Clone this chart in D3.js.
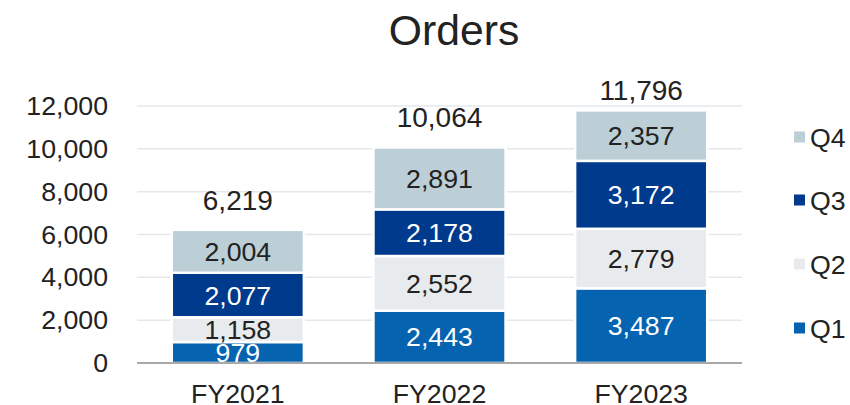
<!DOCTYPE html>
<html>
<head>
<meta charset="utf-8">
<script src="https://cdn.jsdelivr.net/npm/d3@7"></script>
<style>
  body { margin: 0; background: #fff; }
  svg { font-family: "Liberation Sans", Arial, sans-serif; }
</style>
</head>
<body>
<svg id="chart" width="850" height="405"></svg>
<script>
const years = ["FY2021", "FY2022", "FY2023"];
const quarters = ["Q1", "Q2", "Q3", "Q4"];
const q1 = [979, 2443, 3487];
const q2 = [1158, 2552, 2779];
const q3 = [2077, 2178, 3172];
const q4 = [2004, 2891, 2357];
const totals = [6219, 10064, 11796];
const yTicks = [0, 2000, 4000, 6000, 8000, 10000, 12000];

const colors = { Q1: "#0563b0", Q2: "#e8ebee", Q3: "#003a8c", Q4: "#bccfd6" };
const labelColors = { Q1: "#ffffff", Q2: "#222222", Q3: "#ffffff", Q4: "#222222" };

const svg = d3.select("#chart");
const plotLeft = 137, plotRight = 742, plotTop = 106, plotBottom = 363;
const fs = 26.7;

// rows for stacking
const rows = years.map((y, i) => ({ year: y, Q1: q1[i], Q2: q2[i], Q3: q3[i], Q4: q4[i], total: totals[i] }));
const series = d3.stack().keys(quarters)(rows);

const x = d3.scaleBand().domain(years).range([plotLeft, plotRight]).paddingInner(0.345).paddingOuter(0.1725);
const y = d3.scaleLinear().domain([0, 12000]).range([plotBottom, plotTop]);

// title
svg.append("text")
  .attr("x", 454).attr("y", 45)
  .attr("text-anchor", "middle")
  .attr("font-size", 42.7)
  .attr("fill", "#222")
  .text("Orders");

// gridlines
svg.append("g")
  .selectAll("line")
  .data(yTicks.filter(d => d > 0))
  .join("line")
  .attr("x1", plotLeft).attr("x2", plotRight)
  .attr("y1", d => y(d)).attr("y2", d => y(d))
  .attr("stroke", "#e4e8ec")
  .attr("stroke-width", 1.5);

// y axis labels
const yAxis = d3.axisLeft(y).tickValues(yTicks).tickFormat(d3.format(",")).tickSize(0).tickPadding(0);
const yg = svg.append("g").attr("transform", `translate(108,0)`).call(yAxis);
yg.select(".domain").remove();
yg.selectAll("text").attr("font-size", fs).attr("fill", "#222").attr("font-family", "Liberation Sans, Arial, sans-serif");

// bars
const bw = x.bandwidth();
const layer = svg.append("g")
  .selectAll("g")
  .data(series)
  .join("g")
  .attr("fill", d => colors[d.key]);

layer.selectAll("rect")
  .data(d => d.map(v => ({ key: d.key, v })))
  .join("rect")
  .attr("x", d => x(d.v.data.year))
  .attr("y", d => y(d.v[1]))
  .attr("width", bw)
  .attr("height", d => y(d.v[0]) - y(d.v[1]))
  .attr("stroke", "#fff")
  .attr("stroke-width", 2.5);

// segment labels
svg.append("g")
  .selectAll("g")
  .data(series)
  .join("g")
  .selectAll("text")
  .data(d => d.map(v => ({ key: d.key, v })))
  .join("text")
  .attr("x", d => x(d.v.data.year) + bw / 2)
  .attr("y", d => (y(d.v[0]) + y(d.v[1])) / 2)
  .attr("dy", "0.36em")
  .attr("text-anchor", "middle")
  .attr("font-size", fs)
  .attr("fill", d => labelColors[d.key])
  .text(d => d3.format(",")(d.v.data[d.key]));

// baseline
svg.append("line")
  .attr("x1", plotLeft).attr("x2", plotRight)
  .attr("y1", plotBottom).attr("y2", plotBottom)
  .attr("stroke", "#8c8c8c")
  .attr("stroke-width", 1.5);

// totals (kept below the title area)
svg.append("g")
  .selectAll("text")
  .data(rows)
  .join("text")
  .attr("x", d => x(d.year) + bw / 2)
  .attr("y", d => Math.max(y(d.total) - 20, 99.5))
  .attr("text-anchor", "middle")
  .attr("font-size", 28)
  .attr("fill", "#222")
  .text(d => d3.format(",")(d.total));

// x axis labels
const xg = svg.append("g").attr("transform", `translate(0,${plotBottom})`)
  .call(d3.axisBottom(x).tickSize(0));
xg.select(".domain").remove();
xg.selectAll("text")
  .attr("y", 39.5).attr("dy", null)
  .attr("font-size", fs).attr("fill", "#222")
  .attr("font-family", "Liberation Sans, Arial, sans-serif");

// legend
const legendY = { Q4: 137, Q3: 200, Q2: 264, Q1: 328 };
const legend = svg.append("g")
  .selectAll("g")
  .data(quarters)
  .join("g")
  .attr("transform", d => `translate(794,${legendY[d]})`);
legend.append("rect")
  .attr("x", 0).attr("y", -5.5)
  .attr("width", 11).attr("height", 11)
  .attr("fill", d => colors[d]);
legend.append("text")
  .attr("x", 16).attr("y", 0)
  .attr("dy", "0.36em")
  .attr("font-size", fs)
  .attr("fill", "#222")
  .text(d => d);
</script>
</body>
</html>
